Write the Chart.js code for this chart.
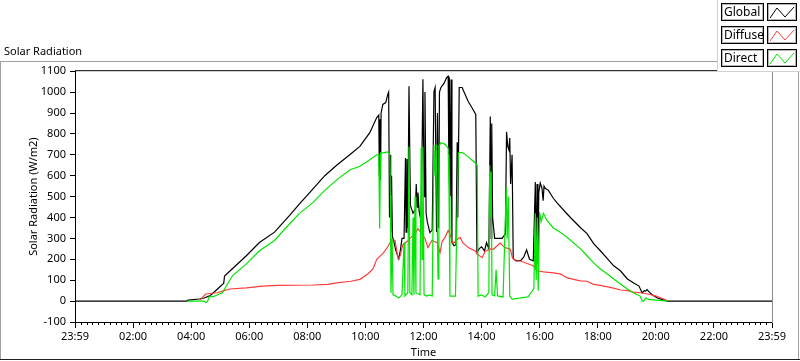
<!DOCTYPE html>
<html>
<head>
<meta charset="utf-8">
<script src="https://cdn.jsdelivr.net/npm/chart.js@4.4.1/dist/chart.umd.min.js"></script>
<style>
  html, body { margin: 0; padding: 0; background: #fff; }
  #wrap { width: 800px; height: 361px; }
</style>
</head>
<body>
<div id="wrap"><canvas id="chart" width="800" height="361"></canvas></div>
<script>
// x axis is hours since 23:59 of the previous day
const tickLabels = ['23:59', '02:00', '04:00', '06:00', '08:00', '10:00', '12:00',
  '14:00', '16:00', '18:00', '20:00', '22:00', '23:59'];
const seriesNames = ['Global', 'Diffuse', 'Direct'];
const seriesColors = ['#000000', '#ff3c3c', '#00e600'];

// [hour, W/m2]
const globalPoints = [[0,0],[3.85,0],[3.9,5],[4.28,10],[4.45,15],[4.63,25],[4.73,35],[4.87,53],[5.0,70],[5.08,80],[5.12,85],[5.15,120],[5.42,155],[5.9,217],[6.35,280],[6.87,330],[7.39,410],[7.73,465],[8.18,535],[8.6,600],[9.01,650],[9.46,700],[9.81,740],[10.15,806],[10.39,878],[10.46,890],[10.48,600],[10.5,870],[10.52,580],[10.54,900],[10.6,941],[10.7,950],[10.77,989],[10.8,1000],[10.83,400],[10.85,700],[10.87,330],[10.9,600],[10.93,310],[10.97,290],[11.05,240],[11.15,203],[11.2,240],[11.26,300],[11.33,300],[11.38,685],[11.4,330],[11.43,680],[11.46,350],[11.5,1028],[11.55,458],[11.64,420],[11.72,440],[11.75,560],[11.78,450],[11.81,520],[11.85,430],[11.92,376],[11.98,1061],[12.02,500],[12.05,1000],[12.09,420],[12.13,380],[12.22,328],[12.3,340],[12.36,1003],[12.4,1022],[12.45,330],[12.48,900],[12.52,350],[12.55,1000],[12.6,1022],[12.7,1040],[12.8,1070],[12.85,1076],[12.87,700],[12.89,1070],[12.92,500],[12.95,1060],[12.98,280],[13.05,265],[13.12,270],[13.16,760],[13.18,400],[13.23,1022],[13.33,1022],[13.43,990],[13.54,955],[13.67,925],[13.8,893],[13.84,232],[13.92,251],[14.0,260],[14.1,240],[14.17,280],[14.25,250],[14.3,883],[14.33,300],[14.35,850],[14.38,400],[14.45,300],[14.57,300],[14.7,300],[14.82,320],[14.86,810],[14.9,740],[14.94,724],[14.97,780],[15.0,560],[15.05,700],[15.09,203],[15.2,193],[15.35,195],[15.45,210],[15.55,245],[15.65,200],[15.78,193],[15.85,570],[15.88,150],[15.91,560],[15.94,180],[15.97,520],[16.02,565],[16.08,540],[16.12,480],[16.15,550],[16.19,540],[16.3,530],[16.47,492],[16.6,470],[16.89,425],[17.06,400],[17.4,352],[17.63,323],[17.86,275],[18.09,241],[18.33,203],[18.55,169],[18.78,145],[19.02,106],[19.24,87],[19.42,72],[19.53,39],[19.6,50],[19.65,48],[19.7,55],[19.76,45],[19.88,30],[20.05,15],[20.28,5],[20.4,0],[24,0]];

const diffusePoints = [[4.3,5],[4.5,34],[4.9,40],[5.08,48],[5.32,58],[5.9,63],[6.46,72],[7.0,75],[8.18,77],[8.7,80],[9.01,87],[9.5,95],[9.81,104],[10.08,130],[10.26,154],[10.39,200],[10.5,215],[10.6,227],[10.77,260],[10.91,295],[11.02,290],[11.12,205],[11.19,215],[11.29,270],[11.43,285],[11.53,300],[11.71,320],[11.81,347],[11.95,320],[12.05,300],[12.15,256],[12.29,290],[12.47,280],[12.57,232],[12.64,285],[12.74,305],[12.85,338],[12.91,320],[13.02,275],[13.16,295],[13.26,305],[13.36,278],[13.54,256],[13.78,240],[13.88,222],[14.02,208],[14.12,238],[14.3,250],[14.4,248],[14.54,265],[14.64,278],[14.81,256],[14.99,248],[15.06,208],[15.16,193],[15.33,192],[15.57,180],[15.78,169],[15.92,145],[16.13,140],[16.47,135],[16.71,130],[16.95,111],[17.4,97],[17.64,95],[17.85,80],[18.09,75],[18.34,68],[18.54,62],[18.78,53],[19.03,50],[19.23,43],[19.48,40],[19.72,34],[19.99,25],[20.27,10],[20.41,0]];

const directPoints = [[3.87,0],[4.45,0],[4.5,-7],[4.56,-3],[4.63,24],[4.75,20],[4.97,34],[5.08,40],[5.15,58],[5.42,121],[5.9,178],[6.35,241],[6.87,290],[7.39,370],[7.73,420],[8.18,470],[8.6,530],[9.01,580],[9.46,627],[9.81,645],[10.15,676],[10.39,700],[10.46,700],[10.49,347],[10.52,709],[10.6,709],[10.77,714],[10.84,700],[10.86,506],[10.88,39],[10.92,300],[10.95,30],[11.05,24],[11.15,15],[11.26,30],[11.33,280],[11.36,24],[11.46,40],[11.5,738],[11.53,40],[11.6,30],[11.64,400],[11.67,30],[11.71,500],[11.74,40],[11.88,30],[11.92,733],[11.95,200],[11.98,738],[12.02,30],[12.1,24],[12.22,30],[12.3,24],[12.36,748],[12.4,600],[12.44,750],[12.5,106],[12.53,740],[12.6,758],[12.75,750],[12.85,730],[12.88,500],[12.91,24],[13.0,24],[13.1,24],[13.16,444],[13.2,709],[13.33,712],[13.54,690],[13.78,661],[13.85,650],[13.88,24],[14.0,30],[14.12,20],[14.25,40],[14.28,651],[14.31,400],[14.33,620],[14.36,30],[14.45,25],[14.5,150],[14.55,25],[14.74,20],[14.85,545],[14.88,300],[14.92,500],[14.97,24],[15.05,10],[15.3,14],[15.6,20],[15.7,40],[15.8,60],[15.85,420],[15.88,100],[15.92,400],[15.95,50],[16.0,425],[16.05,380],[16.13,420],[16.25,386],[16.47,350],[16.71,330],[16.95,304],[17.4,251],[17.63,217],[17.86,183],[18.09,154],[18.33,130],[18.55,106],[18.78,82],[19.02,58],[19.24,39],[19.46,24],[19.53,0],[19.58,0],[19.65,15],[19.76,8],[20.0,5],[20.4,0]];

const allPoints = [globalPoints, diffusePoints, directPoints];

Chart.defaults.font.family = "'Noto Sans', sans-serif";
Chart.defaults.font.size = 11;
Chart.defaults.color = '#000';

// panel frame, minor ticks and the boxed legend
const labviewFrame = {
  id: 'labviewFrame',
  afterDraw(chart) {
    const ctx = chart.ctx;
    const area = chart.chartArea;
    const xs = chart.scales.x;
    ctx.save();
    ctx.lineWidth = 1;

    ctx.strokeStyle = '#000';
    ctx.beginPath();
    for (let i = 1; i < 120; i++) {
      if (i % 10 === 0) continue;
      const px = Math.round(xs.getPixelForValue(i * 0.2)) + 0.5;
      ctx.moveTo(px, area.bottom);
      ctx.lineTo(px, area.bottom + 3);
    }
    ctx.stroke();

    ctx.beginPath();
    ctx.moveTo(area.left, area.top - 0.5);
    ctx.lineTo(area.right + 1, area.top - 0.5);
    ctx.stroke();
    ctx.strokeStyle = '#8c8c8c';
    ctx.beginPath();
    ctx.moveTo(area.right + 0.5, area.top);
    ctx.lineTo(area.right + 0.5, area.bottom + 1);
    ctx.stroke();

    // outer panel
    ctx.strokeStyle = '#a0a0a0';
    ctx.beginPath();
    ctx.moveTo(0, 61.5); ctx.lineTo(800, 61.5);
    ctx.moveTo(0.5, 61.5); ctx.lineTo(0.5, 360);
    ctx.moveTo(798.5, 61.5); ctx.lineTo(798.5, 360);
    ctx.stroke();
    ctx.strokeStyle = '#202020';
    ctx.beginPath();
    ctx.moveTo(0, 359.5); ctx.lineTo(800, 359.5);
    ctx.stroke();

    // legend
    ctx.fillStyle = '#fff';
    ctx.fillRect(717, 0, 83, 72);
    ctx.strokeStyle = '#d0d0d0';
    ctx.beginPath();
    ctx.moveTo(717.5, 0); ctx.lineTo(717.5, 71.5); ctx.lineTo(800, 71.5);
    ctx.stroke();
    ctx.font = "12px 'Noto Sans', sans-serif";
    ctx.textBaseline = 'middle';
    ctx.textAlign = 'left';
    seriesNames.forEach((name, i) => {
      const y = 3 + i * 23;
      ctx.strokeStyle = '#000';
      ctx.strokeRect(721.5, y + 0.5, 42, 17);
      ctx.strokeRect(767.5, y + 0.5, 29, 17);
      ctx.strokeStyle = '#b4b4b4';
      ctx.strokeRect(722.5, y + 1.5, 40, 15);
      ctx.strokeRect(768.5, y + 1.5, 27, 15);
      ctx.fillStyle = '#000';
      ctx.fillText(name, 724, y + 9.5);
      ctx.strokeStyle = seriesColors[i];
      ctx.beginPath();
      ctx.moveTo(770, y + 15);
      ctx.lineTo(777, y + 5);
      ctx.lineTo(785, y + 14);
      ctx.lineTo(794, y + 4);
      ctx.stroke();
    });
    ctx.restore();
  }
};

new Chart(document.getElementById('chart'), {
  type: 'line',
  data: {
    datasets: allPoints.map((pts, i) => ({
      label: seriesNames[i],
      data: pts.map(([x, y]) => ({ x, y })),
      borderColor: seriesColors[i],
      borderWidth: 1.2,
      pointRadius: 0,
      tension: 0,
      fill: false,
      order: 3 - i
    }))
  },
  options: {
    responsive: false,
    animation: false,
    devicePixelRatio: 1,
    layout: { padding: { left: 4, right: 28, top: 0, bottom: 0 } },
    plugins: {
      legend: { display: false },
      tooltip: { enabled: false },
      title: {
        display: true,
        text: 'Solar Radiation',
        align: 'start',
        color: '#000',
        font: { size: 11, weight: 'normal' },
        padding: { top: 45, bottom: 13 }
      }
    },
    scales: {
      x: {
        type: 'linear',
        min: 0,
        max: 24,
        afterBuildTicks: scale => {
          scale.ticks = tickLabels.map((_, i) => ({ value: i * 2 }));
        },
        afterFit: scale => { scale.height = 39; },
        ticks: {
          autoSkip: false,
          maxRotation: 0,
          padding: 2,
          callback: (value, index) => tickLabels[index]
        },
        grid: { drawOnChartArea: false, tickLength: 6, color: '#000' },
        border: { color: '#000' },
        title: { display: true, text: 'Time', padding: { top: 0, bottom: 2 } }
      },
      y: {
        min: -100,
        max: 1100,
        afterFit: scale => { scale.width = 71; },
        ticks: { stepSize: 100, padding: 4, callback: value => String(value) },
        grid: { drawOnChartArea: false, tickLength: 5, color: '#000' },
        border: { color: '#000' },
        title: { display: true, text: 'Solar Radiation (W/m2)', padding: { top: 23, bottom: 0 } }
      }
    }
  },
  plugins: [labviewFrame]
});
</script>
</body>
</html>
